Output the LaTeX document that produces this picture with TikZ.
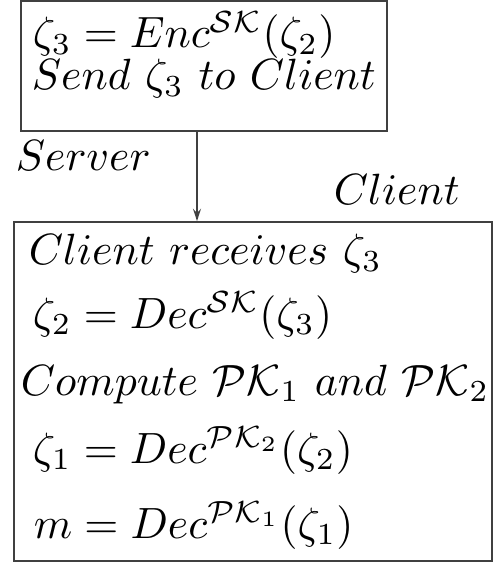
\documentclass[tikz,border=0pt]{standalone}
\usepackage{amsmath,amssymb}
\usetikzlibrary{arrows.meta,positioning,fit}
\tikzset{
  >=Stealth,
  panel/.style ={draw=black!75,line width=0.4pt,inner sep=0pt},
  line/.style  ={anchor=base west,inner sep=0pt,font=\normalsize},
  ar/.style    ={-{Stealth[length=2.8pt,width=1.8pt]},line width=0.4pt,black!75},
}

\begin{document}
\begin{tikzpicture}[x=0.2286pt,y=-0.2286pt]
\useasboundingbox (0,0) rectangle (493,565);
% server side
\coordinate (s1) at (21,1);
\coordinate (s2) at (387,131);
\node[panel,fit=(s1)(s2)] (srv) {};
\node[line] (enc)  at (32,48) {$\zeta_3 = Enc^{\mathcal{SK}}(\zeta_2)$};
\node[line] (send) at (31,90) {$Send\ \zeta_3\ to\ Client$};
\node[line] (srvlbl) at (15,170) {$Server$};
% client side
\coordinate (c1) at (14,222);
\coordinate (c2) at (492,561);
\node[panel,fit=(c1)(c2)] (cli) {};
\node[line] (clilbl) at (333,205) {$Client$};
\node[line] (recv) at (28,265) {$Client\ receives\ \zeta_3$};
\node[line] (dec1) at (32,328) {$\zeta_2 = Dec^{\mathcal{SK}}(\zeta_3)$};
\node[line] (comp) at (20,395) {$Compute\ \mathcal{PK}_1\ and\ \mathcal{PK}_2$};
\node[line] (dec2) at (32,463) {$\zeta_1 = Dec^{\mathcal{PK}_2}(\zeta_2)$};
\node[line] (dec3) at (33,538) {$m = Dec^{\mathcal{PK}_1}(\zeta_1)$};
% message
\coordinate (msgx) at (197,0);
\draw[ar] (srv.south -| msgx) -- (cli.north -| msgx);
\end{tikzpicture}
\end{document}
